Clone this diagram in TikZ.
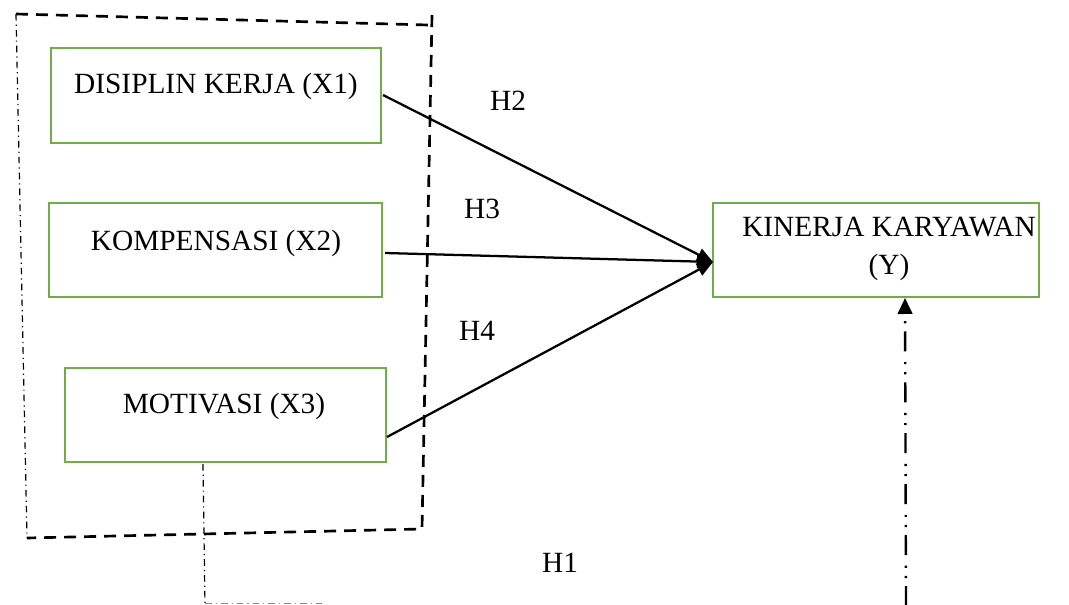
\documentclass[tikz,border=0pt]{standalone}
\usepackage{fontspec}
\setmainfont{Liberation Serif}
\usetikzlibrary{arrows.meta,fit}
\definecolor{boxgreen}{RGB}{112,173,71}
\tikzset{
  box/.style={draw=boxgreen, line width=2pt, inner sep=0pt},
  lbl/.style={font=\fontsize{22}{28.5}\selectfont, align=center, inner sep=0pt},
  link/.style={line width=1.7pt, -{Triangle[length=12pt,width=10pt]}},
  frame/.style={line width=2pt, dash pattern=on 9pt off 6pt},
  thindashdot/.style={line width=0.9pt, dash pattern=on 5pt off 3pt on 0.9pt off 3pt},
  bigdashdot/.style={line width=1.8pt, dash pattern=on 15pt off 6pt on 1.6pt off 6pt on 1.6pt off 8pt,
    -{Triangle[length=12pt,width=11pt]}}
}
\begin{document}
\begin{tikzpicture}[x=0.75pt,y=-0.75pt]
\useasboundingbox (0,0) rectangle (1069,605);
\clip (0,0) rectangle (1069,605);

% group frame around the three independent variables
\coordinate (ftl) at (16,14);
\coordinate (ftr) at (428,25);
\coordinate (frt) at (432,15);
\coordinate (frb) at (422,529);
\coordinate (fbl) at (27,538);
\draw[frame] (ftl) -- (ftr);
\draw[frame] (frt) -- (frb) -- (fbl);
\draw[thindashdot] (ftl) -- (fbl);

% variable boxes
\path (51,48) coordinate (a1) (381,143) coordinate (b1);
\path (49,203) coordinate (a2) (382,297) coordinate (b2);
\path (65,368) coordinate (a3) (386,462) coordinate (b3);
\path (713,203) coordinate (ay) (1039,297) coordinate (by);
\node[box, fit=(a1)(b1)] (x1) {};
\node[box, fit=(a2)(b2)] (x2) {};
\node[box, fit=(a3)(b3)] (x3) {};
\node[box, fit=(ay)(by)] (y) {};

\node[lbl] (x1t) at (216,86) {DISIPLIN KERJA (X1)};
\node[lbl] (x2t) at (216,243) {KOMPENSASI (X2)};
\node[lbl] (x3t) at (224,406) {MOTIVASI (X3)};
\node[lbl] (yt) at (889,249) {KINERJA KARYAWAN\\(Y)};

% hypothesis paths
\coordinate (x1s) at (383,95);
\coordinate (x2s) at (385,253);
\coordinate (x3s) at (387,437);
\coordinate (yin) at (713,262);
\draw[link] (x1s) -- (yin);
\draw[link] (x2s) -- (yin);
\draw[link] (x3s) -- (yin);

\node[lbl] (h2) at (508,101) {H2};
\node[lbl] (h3) at (482,209) {H3};
\node[lbl] (h4) at (477,331) {H4};
\node[lbl] (h1) at (560,563) {H1};

% simultaneous path H1
\coordinate (x3b) at (203,464);
\coordinate (low) at (205,606);
\draw[thindashdot] (x3b) -- (low);
\draw[thindashdot, black!45] (205,603.5) -- (322,603.5);
\coordinate (ys) at (906,606);
\coordinate (yb) at (905,298);
\draw[bigdashdot] (ys) -- (yb);
\end{tikzpicture}
\end{document}
